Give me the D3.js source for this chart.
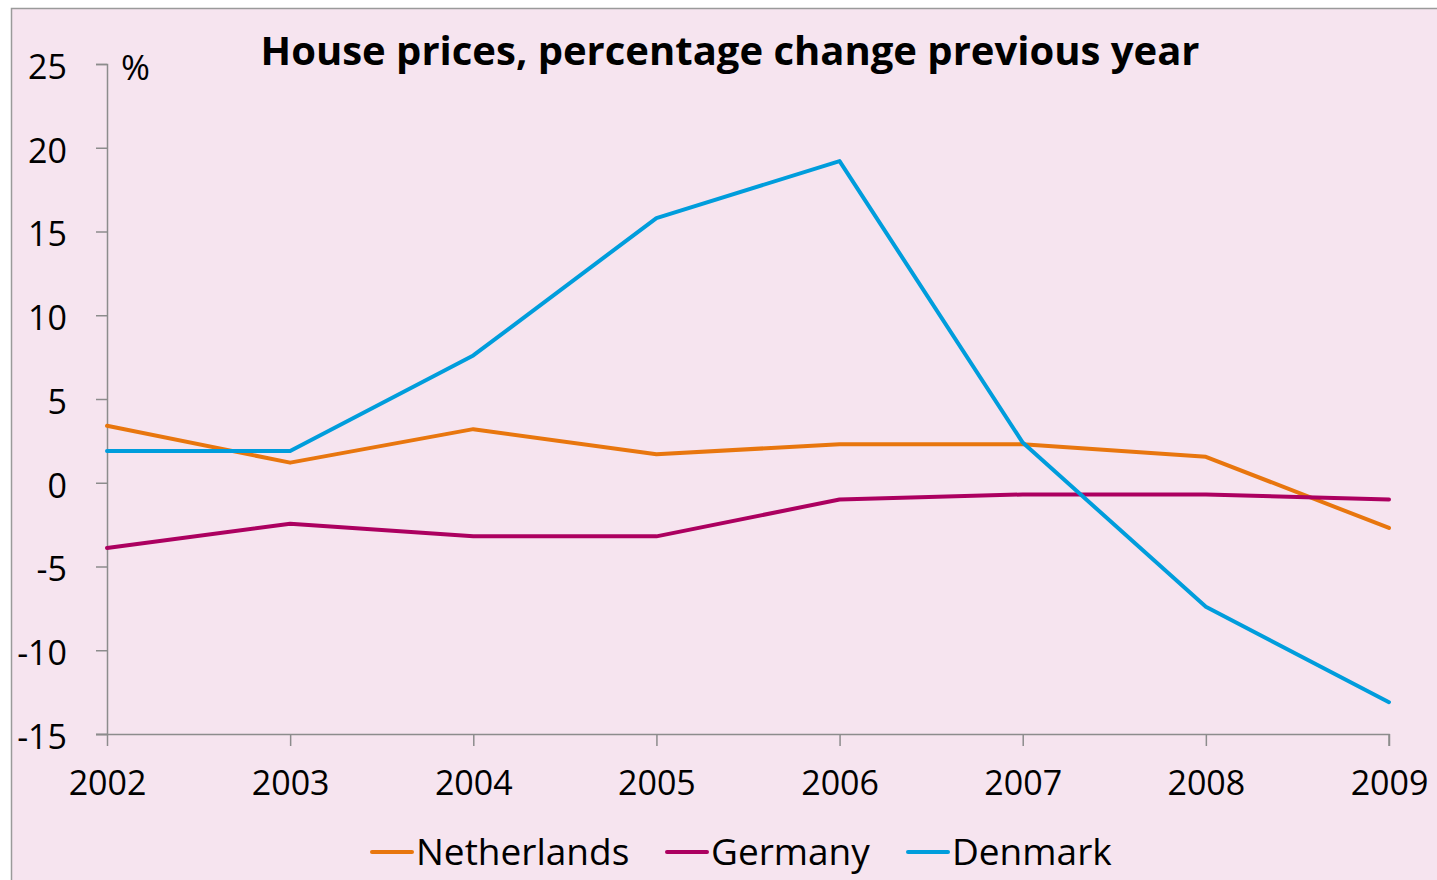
<!DOCTYPE html>
<html>
<head>
    <script src="https://d3js.org/d3.v7.min.js"></script>
    <title>House prices</title>
</head>
<style>
    body {
        margin: 0;
        background-color: white;
        font-family: 'Open Sans', sans-serif;
    }
</style>
<body>
<div id="chart"></div>
</body>
</html>

<script>
  // DATA
  var years = [2002, 2003, 2004, 2005, 2006, 2007, 2008, 2009];
  var netherlands = [3.4, 1.2, 3.2, 1.7, 2.3, 2.3, 1.55, -2.7];
  var germany = [-3.9, -2.45, -3.2, -3.2, -1.0, -0.7, -0.7, -1.0];
  var denmark = [1.9, 1.9, 7.6, 15.8, 19.2, 2.4, -7.4, -13.1];
  var yTicks = [25, 20, 15, 10, 5, 0, -5, -10, -15];

  var series = [
      {"name": "Netherlands", "values": netherlands, "color": "#e8760e"},
      {"name": "Germany", "values": germany, "color": "#ac0060"},
      {"name": "Denmark", "values": denmark, "color": "#009ddc"}
  ];

  var svg = d3.select("#chart").append("svg")
      .attr("width", 1437)
      .attr("height", 880);

  // background panel
  svg.append("rect")
      .attr("x", 11.5)
      .attr("y", 8.5)
      .attr("width", 1440)
      .attr("height", 880)
      .style("fill", "#f6e4ef")
      .style("stroke", "#9a9a9a")
      .style("stroke-width", 1.5);

  //SCALES
  var x = d3.scaleLinear()
      .domain([2002, 2009])
      .range([107, 1389]);

  var y = d3.scaleLinear()
      .domain([-15, 25])
      .range([734, 64]);

  //AXES
  var yAxis = d3.axisLeft(y)
      .tickValues(yTicks)
      .tickSize(11)
      .tickPadding(29)
      .tickFormat(function(d) { return d; });

  var yg = svg.append("g")
      .attr("transform", "translate(107,0)")
      .call(yAxis);

  var xAxis = d3.axisBottom(x)
      .tickValues(years)
      .tickSize(12)
      .tickPadding(25)
      .tickFormat(d3.format("d"));

  var xg = svg.append("g")
      .attr("transform", "translate(0,734)")
      .call(xAxis);

  [yg, xg].forEach(function(g) {
      g.select(".domain").attr("stroke", "#8c8c8c").attr("stroke-width", 1.5);
      g.selectAll(".tick line").attr("stroke", "#8c8c8c").attr("stroke-width", 1.5);
      g.selectAll("text")
          .style("font-family", "'Open Sans', sans-serif")
          .style("font-size", "34px")
          .style("fill", "black");
  });
  // extend x axis line left to the tick of -15
  xg.select(".domain").attr("d", "M96,0.5H1389V12");
  yg.selectAll(".tick text").attr("dy", "0.42em");

  //LINES
  var line = d3.line()
      .x(function(d, i) { return x(years[i]); })
      .y(function(d) { return y(d); });

  svg.selectAll(".series")
      .data(series)
      .enter()
      .append("path")
      .attr("class", "series")
      .attr("d", function(d) { return line(d.values); })
      .attr("fill", "none")
      .attr("stroke", function(d) { return d.color; })
      .attr("stroke-width", 4)
      .attr("stroke-linejoin", "round")
      .attr("stroke-linecap", "round");

  //TEXT
  svg.append("text")
      .attr("x", 730)
      .attr("y", 65)
      .attr("text-anchor", "middle")
      .text("House prices, percentage change previous year")
      .style("font-weight", "bold")
      .style("font-size", "40px");

  svg.append("text")
      .attr("x", 121)
      .attr("y", 80)
      .text("%")
      .style("font-size", "35px");

  //LEGEND
  var legendX = [371, 666, 907];
  var legend = svg.selectAll(".legend")
      .data(series)
      .enter()
      .append("g")
      .attr("class", "legend")
      .attr("transform", function(d, i) { return "translate(" + legendX[i] + ",852)"; });

  legend.append("line")
      .attr("x1", 1).attr("x2", 41)
      .attr("y1", 0).attr("y2", 0)
      .attr("stroke", function(d) { return d.color; })
      .attr("stroke-width", 4)
      .attr("stroke-linecap", "round");

  legend.append("text")
      .attr("x", 45)
      .attr("y", 13)
      .text(function(d) { return d.name; })
      .style("font-size", "37px");
</script>
